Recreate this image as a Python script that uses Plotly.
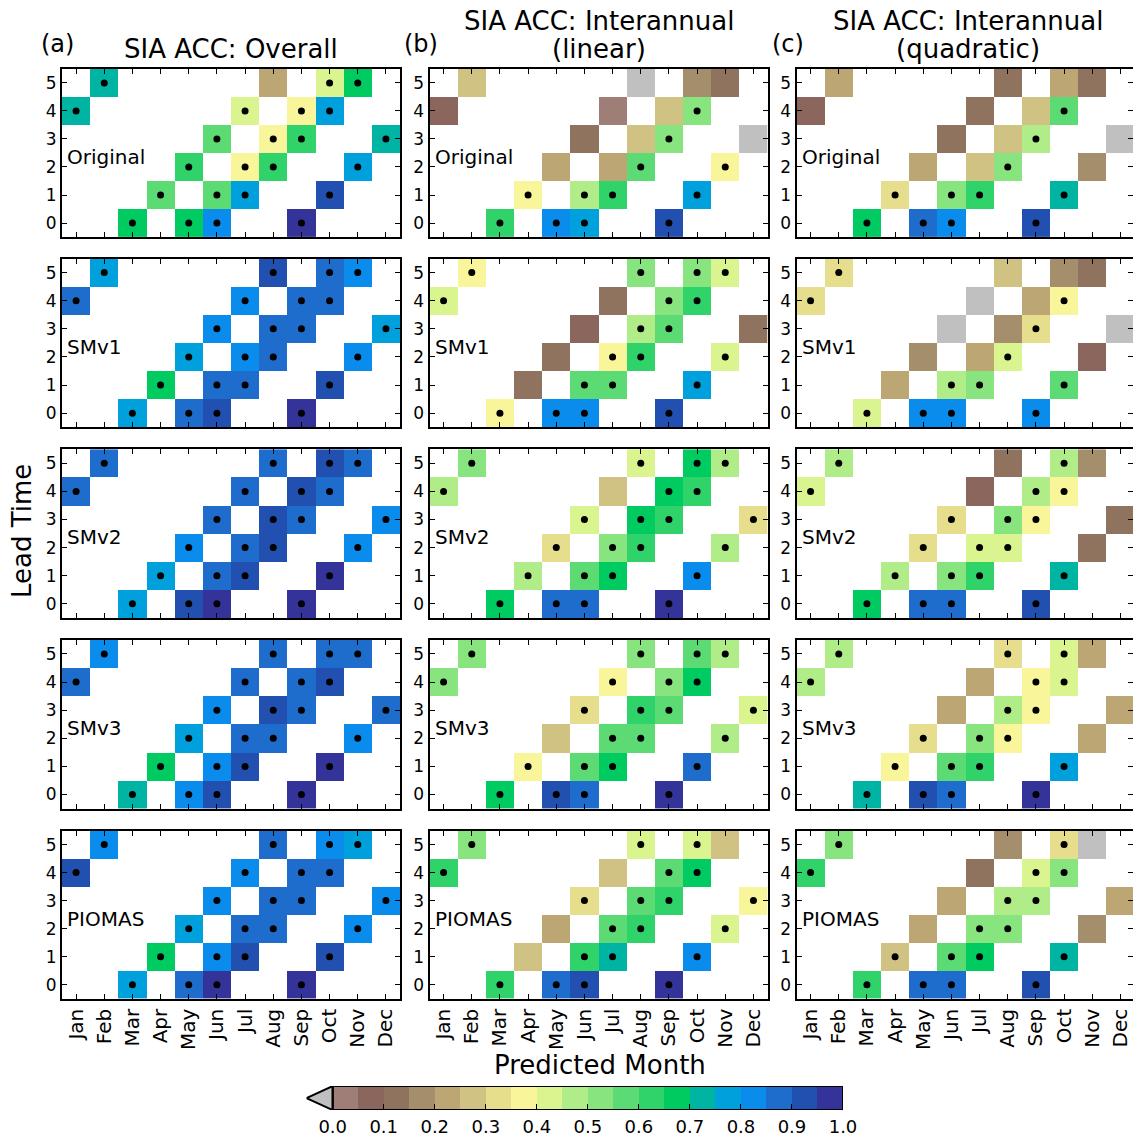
import plotly.graph_objects as go

# ---------------- data ----------------
MONTHS = ["Jan", "Feb", "Mar", "Apr", "May", "Jun", "Jul", "Aug", "Sep", "Oct", "Nov", "Dec"]
INIT_MONTHS = ["Mar", "May", "Jun", "Sep"]
LEADS = [0, 1, 2, 3, 4, 5]
ROW_NAMES = ["Original", "SMv1", "SMv2", "SMv3", "PIOMAS"]
COL_TITLES = [["SIA ACC: Overall"], ["SIA ACC: Interannual", "(linear)"], ["SIA ACC: Interannual", "(quadratic)"]]
COL_TAGS = ["(a)", "(b)", "(c)"]

# ACC values: one list per initialisation month (Mar, May, Jun, Sep), leads 0..5
overall_original = [[0.68, 0.57, 0.63, 0.57, 0.43, 0.22],
                    [0.68, 0.57, 0.38, 0.38, 0.38, 0.43],
                    [0.82, 0.78, 0.63, 0.63, 0.78, 0.68],
                    [0.97, 0.92, 0.78, 0.72, 0.72, 0.72]]
overall_smv1 = [[0.78, 0.68, 0.78, 0.82, 0.82, 0.92],
                [0.87, 0.87, 0.82, 0.87, 0.87, 0.87],
                [0.92, 0.87, 0.87, 0.87, 0.87, 0.82],
                [0.97, 0.92, 0.82, 0.78, 0.87, 0.78]]
overall_smv2 = [[0.78, 0.78, 0.82, 0.87, 0.87, 0.87],
                [0.92, 0.87, 0.87, 0.92, 0.92, 0.92],
                [0.97, 0.92, 0.92, 0.87, 0.87, 0.87],
                [0.97, 0.97, 0.82, 0.82, 0.87, 0.87]]
overall_smv3 = [[0.72, 0.68, 0.78, 0.82, 0.87, 0.87],
                [0.82, 0.82, 0.87, 0.92, 0.87, 0.87],
                [0.92, 0.92, 0.87, 0.87, 0.92, 0.87],
                [0.97, 0.97, 0.82, 0.87, 0.87, 0.82]]
overall_piomas = [[0.78, 0.68, 0.78, 0.82, 0.82, 0.87],
                  [0.87, 0.82, 0.87, 0.87, 0.87, 0.82],
                  [0.97, 0.92, 0.87, 0.87, 0.87, 0.78],
                  [0.97, 0.92, 0.82, 0.82, 0.92, 0.82]]

linear_original = [[0.63, 0.38, 0.22, 0.12, 0.03, -0.04],
                   [0.82, 0.48, 0.22, 0.28, 0.28, 0.17],
                   [0.78, 0.63, 0.57, 0.52, 0.52, 0.12],
                   [0.92, 0.78, 0.38, -0.04, 0.08, 0.28]]
linear_smv1 = [[0.38, 0.12, 0.12, 0.08, 0.12, 0.52],
               [0.82, 0.57, 0.38, 0.48, 0.52, 0.52],
               [0.82, 0.57, 0.63, 0.57, 0.63, 0.43],
               [0.92, 0.78, 0.43, 0.12, 0.43, 0.38]]
linear_smv2 = [[0.68, 0.48, 0.33, 0.43, 0.28, 0.43],
               [0.87, 0.57, 0.52, 0.68, 0.68, 0.68],
               [0.87, 0.68, 0.63, 0.63, 0.63, 0.48],
               [0.97, 0.82, 0.48, 0.33, 0.48, 0.52]]
linear_smv3 = [[0.68, 0.38, 0.28, 0.33, 0.38, 0.52],
               [0.92, 0.57, 0.57, 0.63, 0.52, 0.57],
               [0.87, 0.68, 0.57, 0.57, 0.68, 0.48],
               [0.97, 0.87, 0.48, 0.43, 0.52, 0.52]]
linear_piomas = [[0.63, 0.28, 0.22, 0.33, 0.28, 0.43],
                 [0.87, 0.63, 0.57, 0.57, 0.57, 0.43],
                 [0.92, 0.72, 0.63, 0.63, 0.68, 0.28],
                 [0.97, 0.82, 0.43, 0.38, 0.63, 0.52]]

quad_original = [[0.68, 0.33, 0.22, 0.12, 0.12, 0.12],
                 [0.87, 0.52, 0.28, 0.28, 0.28, 0.22],
                 [0.82, 0.63, 0.52, 0.48, 0.57, 0.12],
                 [0.92, 0.72, 0.17, -0.04, 0.08, 0.22]]
quad_smv1 = [[0.43, 0.22, 0.17, -0.04, -0.04, 0.28],
             [0.82, 0.48, 0.22, 0.17, 0.22, 0.17],
             [0.82, 0.52, 0.43, 0.33, 0.38, 0.12],
             [0.82, 0.57, 0.08, -0.04, 0.33, 0.33]]
quad_smv2 = [[0.68, 0.48, 0.33, 0.33, 0.08, 0.12],
             [0.87, 0.52, 0.43, 0.52, 0.48, 0.48],
             [0.87, 0.63, 0.43, 0.38, 0.38, 0.17],
             [0.92, 0.72, 0.12, 0.12, 0.43, 0.48]]
quad_smv3 = [[0.72, 0.38, 0.33, 0.22, 0.22, 0.33],
             [0.92, 0.57, 0.52, 0.48, 0.38, 0.43],
             [0.87, 0.63, 0.38, 0.38, 0.43, 0.22],
             [0.97, 0.78, 0.22, 0.22, 0.48, 0.48]]
quad_piomas = [[0.63, 0.28, 0.22, 0.22, 0.12, 0.17],
               [0.87, 0.57, 0.52, 0.48, 0.43, 0.33],
               [0.87, 0.68, 0.52, 0.48, 0.52, -0.04],
               [0.92, 0.72, 0.17, 0.22, 0.63, 0.52]]

# significance flags (1 = dot), same layout
S_ALL = [[1, 1, 1, 1, 1, 1]] * 4
sig_overall_original = [[1, 1, 1, 1, 1, 0], [1, 1, 1, 1, 1, 1], [1, 1, 1, 1, 1, 1], [1, 1, 1, 1, 1, 1]]
sig_linear_original = [[1, 1, 0, 0, 0, 0], [1, 1, 0, 0, 0, 0], [1, 1, 1, 1, 1, 0], [1, 1, 1, 0, 0, 0]]
sig_linear_smv1 = [[1, 0, 0, 0, 0, 1], [1, 1, 1, 1, 1, 1], [1, 1, 1, 1, 1, 1], [1, 1, 1, 0, 1, 1]]
sig_linear_smv2 = [[1, 1, 1, 1, 0, 1], [1, 1, 1, 1, 1, 1], [1, 1, 1, 1, 1, 1], [1, 1, 1, 1, 1, 1]]
sig_linear_smv3 = [[1, 1, 0, 1, 1, 1], [1, 1, 1, 1, 1, 1], [1, 1, 1, 1, 1, 1], [1, 1, 1, 1, 1, 1]]
sig_linear_piomas = [[1, 0, 0, 1, 0, 1], [1, 1, 1, 1, 1, 1], [1, 1, 1, 1, 1, 0], [1, 1, 1, 1, 1, 1]]
sig_quad_original = [[1, 1, 0, 0, 0, 0], [1, 1, 0, 0, 0, 0], [1, 1, 1, 1, 1, 0], [1, 1, 0, 0, 0, 0]]
sig_quad_smv1 = [[1, 0, 0, 0, 0, 0], [1, 1, 0, 0, 0, 0], [1, 1, 1, 1, 1, 0], [1, 1, 0, 0, 1, 1]]
sig_quad_smv2 = [[1, 1, 1, 1, 0, 0], [1, 1, 1, 1, 1, 1], [1, 1, 1, 1, 1, 0], [1, 1, 0, 0, 1, 1]]
sig_quad_smv3 = [[1, 1, 1, 0, 0, 1], [1, 1, 1, 1, 1, 1], [1, 1, 1, 1, 1, 0], [1, 1, 0, 0, 1, 1]]
sig_quad_piomas = [[1, 1, 0, 0, 0, 0], [1, 1, 1, 1, 1, 1], [1, 1, 1, 1, 1, 0], [1, 1, 0, 0, 1, 1]]

PANELS = [  # rows x cols
    [(overall_original, sig_overall_original), (linear_original, sig_linear_original), (quad_original, sig_quad_original)],
    [(overall_smv1, S_ALL), (linear_smv1, sig_linear_smv1), (quad_smv1, sig_quad_smv1)],
    [(overall_smv2, S_ALL), (linear_smv2, sig_linear_smv2), (quad_smv2, sig_quad_smv2)],
    [(overall_smv3, S_ALL), (linear_smv3, sig_linear_smv3), (quad_smv3, sig_quad_smv3)],
    [(overall_piomas, S_ALL), (linear_piomas, sig_linear_piomas), (quad_piomas, sig_quad_piomas)],
]

CB_TICKS = [0.0, 0.1, 0.2, 0.3, 0.4, 0.5, 0.6, 0.7, 0.8, 0.9, 1.0]
CB_BIN_CENTERS = [0.025, 0.075, 0.125, 0.175, 0.225, 0.275, 0.325, 0.375, 0.425, 0.475,
                  0.525, 0.575, 0.625, 0.675, 0.725, 0.775, 0.825, 0.875, 0.925, 0.975]

# ---------------- styling ----------------
UNDER = "#c0c0c0"
BIN_COLORS = ["#9e7e76", "#8a665c", "#8f735f", "#a58e6c", "#bba674", "#d0c282", "#e6de8c",
              "#f8f59a", "#daf590", "#b0ec88", "#88e47e", "#5cdb74", "#2fd36a", "#00cb60",
              "#00b4a4", "#00a0dc", "#0a8cec", "#1e6ccc", "#2250b0", "#333399"]
ZMIN, ZMAX = -0.05, 1.0
allc = [UNDER] + BIN_COLORS
nb = len(allc)
colorscale = []
for k, c in enumerate(allc):
    colorscale.append([k / nb, c])
    colorscale.append([(k + 1) / nb, c])

W, H = 1148, 1137   # layout canvas; target picture is 1133 px wide
TW = 1133
FONT = "DejaVu Sans"


def fx(p):
    return p / TW


def fy(p):
    return 1 - p / H


COLS_PX = [(62, 400), (429.5, 767.5), (796.5, 1133)]
ROWS_PX = [(69, 237.5), (259, 428), (450, 619), (641, 810), (832, 1000.5)]
CELL = 338 / 12

fig = go.Figure()
layout = {}
annotations = []
ai = 0
for r in range(5):
    for c in range(3):
        ai += 1
        vals, sig = PANELS[r][c]
        z = [[None] * 12 for _ in LEADS]
        dx, dy = [], []
        for i, im in enumerate(INIT_MONTHS):
            m0 = MONTHS.index(im)
            for L in LEADS:
                m = (m0 + L) % 12
                z[L][m] = vals[i][L]
                if sig[i][L]:
                    dx.append(m)
                    dy.append(L)
        xs = "x" if ai == 1 else f"x{ai}"
        ys = "y" if ai == 1 else f"y{ai}"
        fig.add_trace(go.Heatmap(z=z, x=list(range(12)), y=LEADS, xaxis=xs, yaxis=ys,
                                 colorscale=colorscale, zmin=ZMIN, zmax=ZMAX,
                                 showscale=False, hoverongaps=False))
        fig.add_trace(go.Scatter(x=dx, y=dy, mode="markers", xaxis=xs, yaxis=ys,
                                 marker=dict(color="black", size=7), showlegend=False,
                                 hoverinfo="skip"))
        x0, x1 = COLS_PX[c]
        y0, y1 = ROWS_PX[r]
        xr1 = -0.5 + (x1 - x0) / CELL
        kx = "xaxis" if ai == 1 else f"xaxis{ai}"
        ky = "yaxis" if ai == 1 else f"yaxis{ai}"
        layout[kx] = dict(domain=[fx(x0), fx(x1)], anchor=ys, range=[-0.5, xr1],
                          tickvals=list(range(12)), ticktext=MONTHS,
                          showticklabels=(r == 4), tickangle=-90,
                          ticks="inside", ticklen=5, tickwidth=1, tickcolor="black",
                          mirror="allticks", showline=True, linewidth=2, linecolor="black",
                          showgrid=False, zeroline=False, fixedrange=True,
                          tickfont=dict(family=FONT, size=20, color="black"))
        layout[ky] = dict(domain=[fy(y1), fy(y0)], anchor=xs, range=[-0.5, 5.5],
                          tickvals=LEADS, ticks="inside", ticklen=5, tickwidth=1,
                          tickcolor="black", mirror="allticks", showline=True, linewidth=2,
                          linecolor="black", showgrid=False, zeroline=False, fixedrange=True,
                          tickfont=dict(family=FONT, size=17, color="black"))
        annotations.append(dict(x=-0.38, y=2.36, xref=xs, yref=ys, text=ROW_NAMES[r],
                                showarrow=False, xanchor="left", yanchor="middle",
                                font=dict(family=FONT, size=20, color="black")))

# colorbar axis
ci = 16
tip = -(332.7 - 306.5) / (843 - 332.7)
layout[f"xaxis{ci}"] = dict(domain=[fx(306.5), fx(843)], anchor=f"y{ci}",
                            range=[tip, 1.0],
                            tickvals=CB_TICKS, ticktext=[f"{t:.1f}" for t in CB_TICKS],
                            ticks="inside", ticklen=6, tickwidth=1, tickcolor="black",
                            ticklabelstandoff=4,
                            showline=False, showgrid=False, zeroline=False, fixedrange=True,
                            tickfont=dict(family=FONT, size=18, color="black"))
layout[f"yaxis{ci}"] = dict(domain=[fy(1112), fy(1088)], anchor=f"x{ci}", range=[0, 1],
                            showticklabels=False, ticks="", showline=False, showgrid=False,
                            zeroline=False, fixedrange=True)
fig.add_trace(go.Heatmap(z=[CB_BIN_CENTERS], x=CB_BIN_CENTERS, y=[0.5], xaxis=f"x{ci}",
                         yaxis=f"y{ci}", colorscale=colorscale, zmin=ZMIN, zmax=ZMAX,
                         showscale=False, hoverinfo="skip"))
shapes = [
    dict(type="path", path=f"M 0,0 L {tip},0.5 L 0,1 Z", xref=f"x{ci}", yref=f"y{ci}",
         fillcolor=UNDER, line=dict(color="black", width=2)),
    dict(type="rect", x0=0, x1=1, y0=0, y1=1, xref=f"x{ci}", yref=f"y{ci}",
         line=dict(color="black", width=2), fillcolor="rgba(0,0,0,0)"),
]


def ann_px(x, y, text, size, xanchor="center", angle=0):
    return dict(x=fx(x), y=fy(y), xref="paper", yref="paper", text=text, showarrow=False,
                xanchor=xanchor, yanchor="middle", textangle=angle,
                font=dict(family=FONT, size=size, color="black"))


annotations.append(ann_px(231, 49, COL_TITLES[0][0], 26))
annotations.append(ann_px(599, 21, COL_TITLES[1][0], 26))
annotations.append(ann_px(599, 49, COL_TITLES[1][1], 26))
annotations.append(ann_px(968, 21, COL_TITLES[2][0], 26))
annotations.append(ann_px(968, 49, COL_TITLES[2][1], 26))
annotations.append(ann_px(39, 44, COL_TAGS[0], 24, xanchor="left"))
annotations.append(ann_px(402, 44, COL_TAGS[1], 24, xanchor="left"))
annotations.append(ann_px(770, 44, COL_TAGS[2], 24, xanchor="left"))
annotations.append(ann_px(22, 532, "Lead Time", 26, angle=-90))
annotations.append(ann_px(600, 1067, "Predicted Month", 26))

fig.update_layout(width=W, height=H, autosize=False,
                  margin=dict(l=0, r=W - TW, t=0, b=0),
                  paper_bgcolor="white", plot_bgcolor="white", showlegend=False,
                  annotations=annotations, shapes=shapes, **layout)
fig.write_html("out.html", config={"responsive": False})
